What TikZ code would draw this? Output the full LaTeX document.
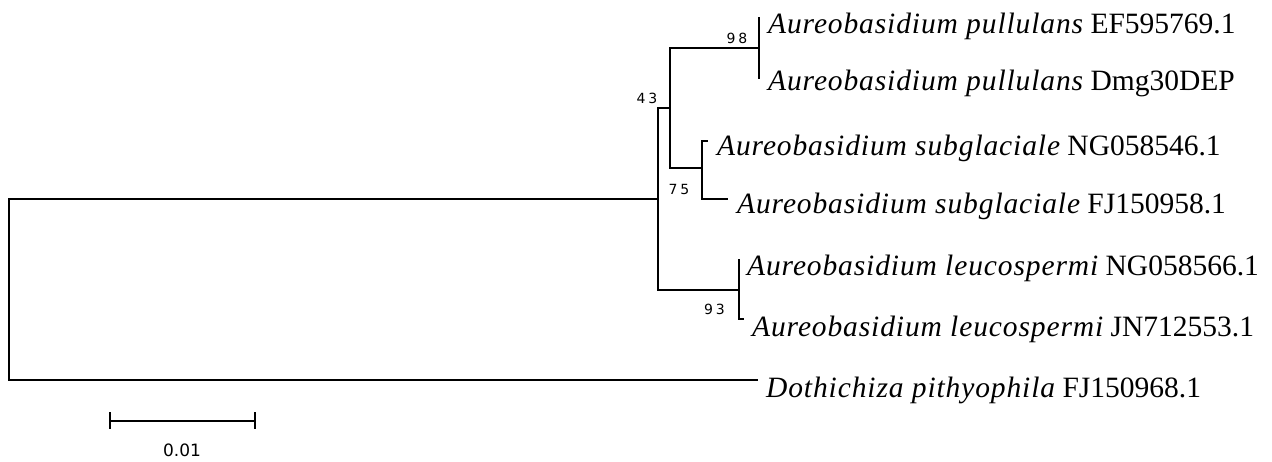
\documentclass[tikz,border=0pt]{standalone}
\usepackage{fontspec}
\setmainfont{Liberation Serif}
\newfontfamily\spfam{Liberation Serif}[LetterSpace=3]
\newfontfamily\bsfont[LetterSpace=20]{DejaVu Sans}
\newfontfamily\scfont{DejaVu Sans}
\newcommand{\spname}[1]{{\spfam\itshape #1}}
\begin{document}
\begin{tikzpicture}[x=1pt,y=-1pt,
  branch/.style={line width=2pt,line cap=rect,line join=miter},
  taxon/.style={anchor=base west,inner sep=0pt,font=\fontsize{29.5}{31}\selectfont},
  boot/.style={inner sep=0pt,font=\bsfont\fontsize{14}{16}\selectfont},
  scalelbl/.style={inner sep=0pt,font=\scfont\fontsize{17}{19}\selectfont}]
\useasboundingbox (0,0) rectangle (1272,461);
% internal nodes
\coordinate (root) at (8.5,289.5);
\coordinate (A) at (658,199);
\coordinate (B) at (670,108);
\coordinate (C) at (759,48);
\coordinate (D) at (702,168);
\coordinate (E) at (739,289.5);
% leaves
\coordinate (p1) at (759,18);
\coordinate (p2) at (759,78);
\coordinate (s1) at (707,141);
\coordinate (s2) at (727,199);
\coordinate (l1) at (739,260);
\coordinate (l2) at (743,319);
\coordinate (dp) at (757,380);
% branches
\draw[branch] (root) |- (A);
\draw[branch] (root) |- (dp);
\draw[branch] (A) |- (B);
\draw[branch] (A) |- (E);
\draw[branch] (B) |- (C);
\draw[branch] (B) |- (D);
\draw[branch] (C) |- (p1);
\draw[branch] (C) |- (p2);
\draw[branch] (D) |- (s1);
\draw[branch] (D) |- (s2);
\draw[branch] (E) |- (l1);
\draw[branch] (E) |- (l2);
% taxon labels
\node[taxon] (t1) at (768,33) {\spname{Aureobasidium pullulans} EF595769.1};
\node[taxon] (t2) at (768,90) {\spname{Aureobasidium pullulans} Dmg30DEP};
\node[taxon] (t3) at (717,155) {\spname{Aureobasidium subglaciale} NG058546.1};
\node[taxon] (t4) at (737,213) {\spname{Aureobasidium subglaciale} FJ150958.1};
\node[taxon] (t5) at (747,275) {\spname{Aureobasidium leucospermi} NG058566.1};
\node[taxon] (t6) at (752,336) {\spname{Aureobasidium leucospermi} JN712553.1};
\node[taxon] (t7) at (766,397) {\spname{Dothichiza pithyophila} FJ150968.1};
% bootstrap values
\node[boot] (b98) at (737,38) {98};
\node[boot] (b43) at (647,98) {43};
\node[boot] (b75) at (679,189) {75};
\node[boot] (b93) at (714.5,309.5) {93};
% scale bar
\coordinate (sa) at (110,420.5);
\coordinate (sb) at (255,420.5);
\draw[branch] (sa) -- (sb);
\draw[branch] ([yshift=-7.5pt]sa) -- ([yshift=7.5pt]sa);
\draw[branch] ([yshift=-7.5pt]sb) -- ([yshift=7.5pt]sb);
\node[scalelbl] (sl) at (182,450) {0.01};
\end{tikzpicture}
\end{document}
